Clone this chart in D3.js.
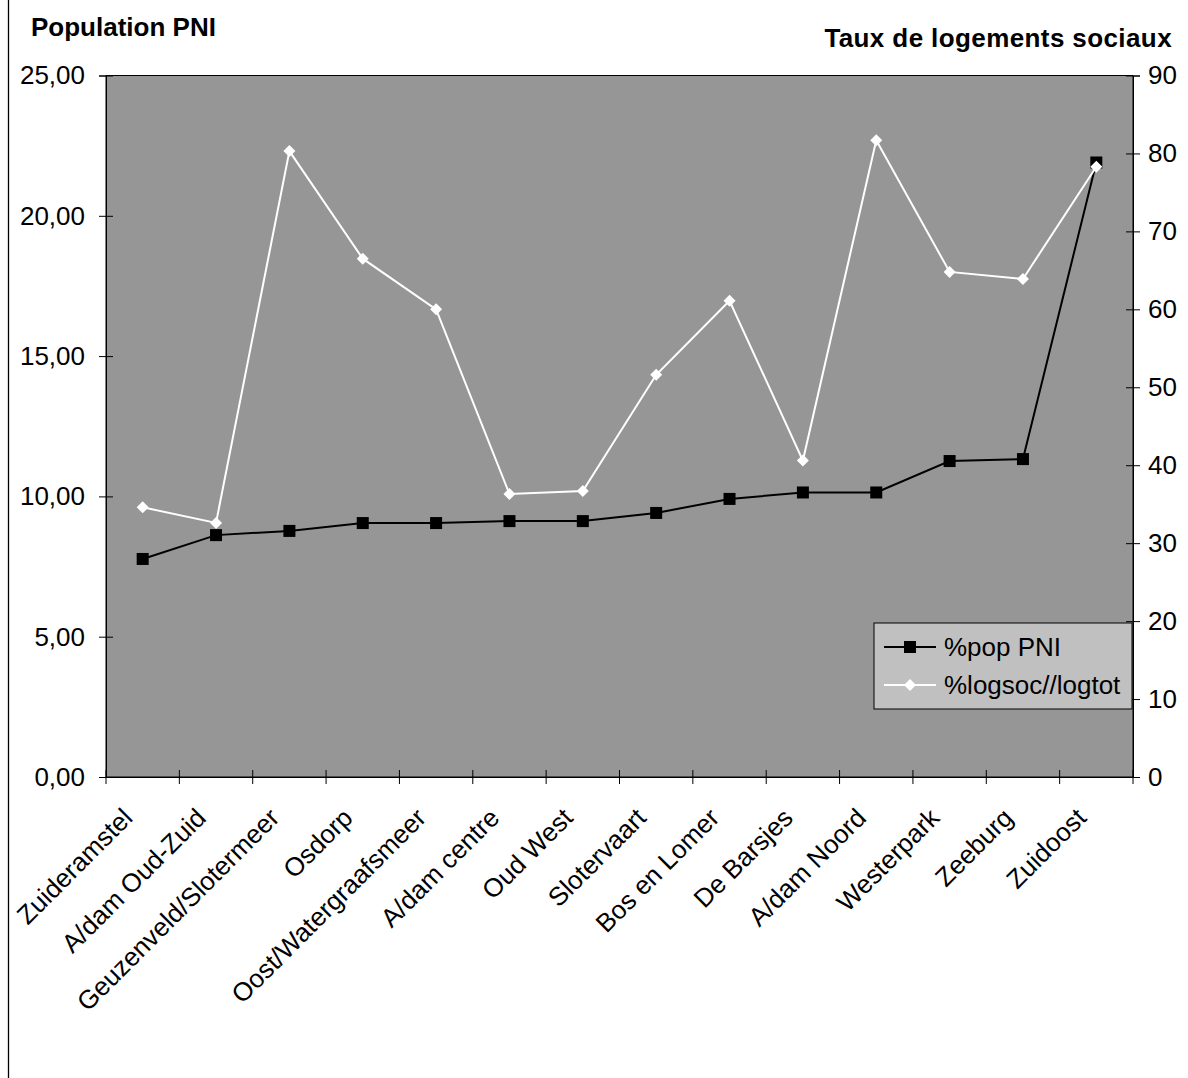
<!DOCTYPE html>
<html><head><meta charset="utf-8">
<script src="https://cdn.jsdelivr.net/npm/d3@7"></script>
<style>body{margin:0;background:#fff}svg{display:block;font-family:"Liberation Sans",Arial,sans-serif}</style>
</head><body>
<script>
const categories = ["Zuideramstel","A/dam Oud-Zuid","Geuzenveld/Slotermeer","Osdorp","Oost/Watergraafsmeer","A/dam centre","Oud West","Slotervaart","Bos en Lomer","De Barsjes","A/dam Noord","Westerpark","Zeeburg","Zuidoost"];
const popPNI = [7.77,8.62,8.77,9.05,9.05,9.12,9.12,9.41,9.91,10.14,10.14,11.26,11.33,21.9];
const logSoc = [34.6,32.6,80.3,66.5,60.0,36.3,36.7,51.6,61.1,40.6,81.7,64.8,63.9,78.3];
const leftTicks = [0,5,10,15,20,25];
const rightTicks = [0,10,20,30,40,50,60,70,80,90];
const seriesNames = ["%pop PNI","%logsoc//logtot"];

const W=1188,H=1078;
const L=106,R=1133,T=75.5,B=777;
const FS=26;
const svg=d3.select("body").append("svg").attr("width",W).attr("height",H);
svg.append("line").attr("x1",8.5).attr("x2",8.5).attr("y1",0).attr("y2",H).attr("stroke","#000").attr("stroke-width",1.3);

const x=d3.scaleBand().domain(categories).range([L,R]).padding(0);
const yL=d3.scaleLinear().domain([0,25]).range([B,T]);
const yR=d3.scaleLinear().domain([0,90]).range([B,T]);

svg.append("rect").attr("x",L).attr("y",T).attr("width",R-L).attr("height",B-T).attr("fill","#969696").attr("stroke","#000").attr("stroke-width",1);

const gl=svg.append("g").attr("transform",`translate(${L},0)`)
 .call(d3.axisLeft(yL).tickValues(leftTicks).tickFormat(d=>d3.format(".2f")(d).replace(".",",")).tickSize(7).tickPadding(14));
gl.selectAll(".tick line").attr("x2",7).attr("x1",-7);
const gr=svg.append("g").attr("transform",`translate(${R},0)`)
 .call(d3.axisRight(yR).tickValues(rightTicks).tickSize(7).tickPadding(8));
gr.selectAll(".tick line").attr("x1",-7).attr("x2",7);
const gb=svg.append("g").attr("transform",`translate(0,${B})`)
 .call(d3.axisBottom(x).tickSize(0).tickFormat(""));
const bounds=categories.map(c=>x(c)).concat([R]);
svg.append("g").selectAll("line").data(bounds).join("line")
 .attr("x1",d=>d).attr("x2",d=>d).attr("y1",B-7).attr("y2",B+7).attr("stroke","#000");
[gl,gr,gb].forEach(g=>{g.attr("font-size",FS);g.select(".domain").attr("stroke","#000");g.selectAll("text").attr("font-size",FS).attr("fill","#000").attr("font-family","Liberation Sans, Arial, sans-serif");});

svg.append("g").selectAll("text").data(categories).join("text")
 .attr("transform",d=>`translate(${x(d)+x.bandwidth()/2-15},${B+36}) rotate(-45)`)
 .attr("text-anchor","end").attr("dy","0.35em").attr("font-size",FS).text(d=>d);

const cx=d=>x(d)+x.bandwidth()/2;
svg.append("path").datum(categories).attr("fill","none").attr("stroke","#000").attr("stroke-width",2)
 .attr("d",d3.line().x(d=>cx(d)).y((d,i)=>yL(popPNI[i])));
svg.append("path").datum(categories).attr("fill","none").attr("stroke","#fff").attr("stroke-width",2)
 .attr("d",d3.line().x(d=>cx(d)).y((d,i)=>yR(logSoc[i])));
svg.append("g").selectAll("rect").data(categories).join("rect")
 .attr("x",d=>cx(d)-6).attr("y",(d,i)=>yL(popPNI[i])-6).attr("width",12).attr("height",12).attr("fill","#000");
const diamond=s=>`M0,${-s}L${s},0L0,${s}L${-s},0Z`;
svg.append("g").selectAll("path").data(categories).join("path")
 .attr("transform",(d,i)=>`translate(${cx(d)},${yR(logSoc[i])})`).attr("d",diamond(6)).attr("fill","#fff");

svg.append("text").attr("x",31).attr("y",36).attr("font-size",FS).attr("font-weight","bold").text("Population PNI");
svg.append("text").attr("x",1172).attr("y",47).attr("text-anchor","end").attr("font-size",FS).attr("font-weight","bold").attr("letter-spacing","0.4").text("Taux de logements sociaux");

const lg=svg.append("g").attr("transform","translate(874,623)");
lg.append("rect").attr("width",258).attr("height",86).attr("fill","#c0c0c0").attr("stroke","#000").attr("stroke-width",1);
const ly=[24,62];
lg.append("line").attr("x1",10).attr("x2",62).attr("y1",ly[0]).attr("y2",ly[0]).attr("stroke","#000").attr("stroke-width",2);
lg.append("rect").attr("x",30).attr("y",ly[0]-6).attr("width",12).attr("height",12).attr("fill","#000");
lg.append("line").attr("x1",10).attr("x2",62).attr("y1",ly[1]).attr("y2",ly[1]).attr("stroke","#fff").attr("stroke-width",2);
lg.append("path").attr("transform",`translate(36,${ly[1]})`).attr("d",diamond(6)).attr("fill","#fff");
lg.selectAll("text.l").data(seriesNames).join("text").attr("x",70).attr("y",(d,i)=>ly[i]).attr("dy","0.35em").attr("font-size",FS).text(d=>d);
</script>
</body></html>
